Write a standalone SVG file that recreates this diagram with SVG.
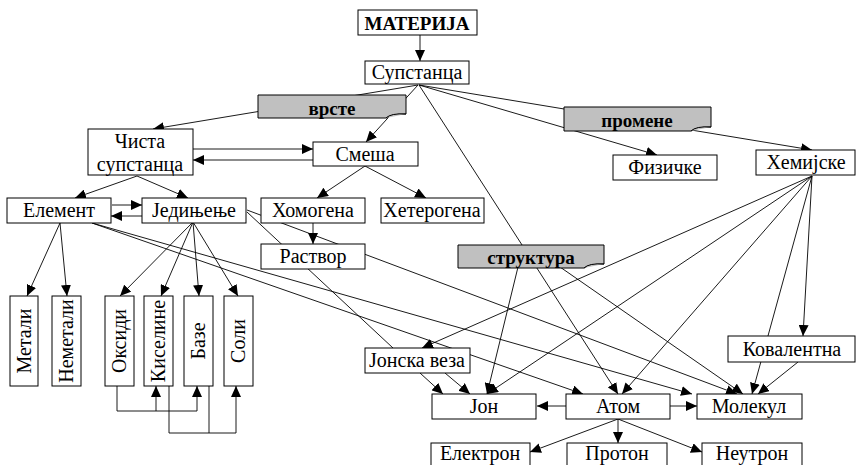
<svg xmlns="http://www.w3.org/2000/svg" width="857" height="465" viewBox="0 0 857 465">
<defs>
<marker id="ah" markerUnits="userSpaceOnUse" markerWidth="12" markerHeight="10" refX="11" refY="5" orient="auto">
<path d="M0,0 L11,5 L0,10 Z" fill="#000"/>
</marker>
<style>
.c line, .c path{stroke:#000;stroke-width:0.9;fill:none}
.a{marker-end:url(#ah)}
.n rect{fill:#fff;stroke:#000;stroke-width:1}
.g path{fill:#c0c0c0;stroke:#000;stroke-width:1}
text{font-family:"Liberation Serif","Times New Roman",serif;font-size:20px;fill:#000;text-anchor:middle}
.b{font-weight:bold;font-size:19px}
</style>
</defs>
<rect width="857" height="465" fill="#fff"/>
<g id="connectors" class="c">
<line class="a" x1="420" y1="35" x2="420" y2="61"/>
<line class="a" x1="418" y1="85" x2="153" y2="129"/>
<line class="a" x1="418" y1="85" x2="366" y2="142"/>
<line class="a" x1="419" y1="85" x2="657" y2="155"/>
<line class="a" x1="419" y1="85" x2="812" y2="150"/>
<line class="a" x1="419" y1="85" x2="618" y2="394"/>
<line class="a" x1="193" y1="149" x2="313" y2="149"/>
<line class="a" x1="313" y1="160" x2="193" y2="160"/>
<line class="a" x1="137" y1="176" x2="75" y2="198"/>
<line class="a" x1="137" y1="176" x2="188" y2="198"/>
<line class="a" x1="112" y1="205" x2="142" y2="205"/>
<line class="a" x1="142" y1="216" x2="111" y2="216"/>
<line class="a" x1="365" y1="166" x2="317" y2="198"/>
<line class="a" x1="365" y1="166" x2="426" y2="198"/>
<line class="a" x1="313" y1="223" x2="313" y2="244"/>
<line class="a" x1="60" y1="223" x2="27" y2="296"/>
<line class="a" x1="60" y1="223" x2="67" y2="296"/>
<line class="a" x1="193" y1="222" x2="120" y2="296"/>
<line class="a" x1="193" y1="222" x2="161" y2="296"/>
<line class="a" x1="193" y1="222" x2="199" y2="296"/>
<line class="a" x1="193" y1="222" x2="238" y2="296"/>
<line x1="247" y1="212" x2="393" y2="348"/>
<line class="a" x1="247" y1="210" x2="737" y2="394"/>
<line class="a" x1="92" y1="223" x2="583" y2="394"/>
<line class="a" x1="92" y1="223" x2="692" y2="394"/>
<line class="a" x1="518" y1="267" x2="487" y2="394"/>
<line class="a" x1="560" y1="267" x2="743" y2="394"/>
<line class="a" x1="812" y1="176" x2="422" y2="348"/>
<line class="a" x1="812" y1="176" x2="487" y2="394"/>
<line class="a" x1="812" y1="176" x2="622" y2="394"/>
<line class="a" x1="812" y1="176" x2="752" y2="394"/>
<line class="a" x1="812" y1="176" x2="803" y2="336"/>
<line class="a" x1="798" y1="362" x2="758" y2="394"/>
<line class="a" x1="420" y1="373" x2="443" y2="394"/>
<line class="a" x1="445" y1="373" x2="470" y2="394"/>
<line class="a" x1="566" y1="406" x2="537" y2="406"/>
<line class="a" x1="670" y1="406" x2="697" y2="406"/>
<line class="a" x1="618" y1="419" x2="530" y2="452"/>
<line class="a" x1="618" y1="419" x2="618" y2="443"/>
<line class="a" x1="618" y1="419" x2="702" y2="452"/>
<path d="M117,386 V411 H197"/>
<path class="a" d="M197,411 V386"/>
<path class="a" d="M156,411 V386"/>
<path d="M169,386 V433 H236"/>
<path class="a" d="M236,433 V386"/>
<path d="M209,386 V433"/>
</g>
<g id="materija" class="n"><rect x="358" y="10" width="119" height="25"/><text class="b" x="417" y="30">МАТЕРИЈА</text></g>
<g id="supstanca" class="n"><rect x="365" y="61" width="104" height="23"/><text x="417" y="79">Супстанца</text></g>
<g id="vrste" class="g"><path d="M258,95 H406 V114 Q398,114 393,115 Q389,116 386,118 H258 Z"/><path d="M386,118 Q391,113 406,114" fill="#888"/><text class="b" x="332" y="115">врсте</text></g>
<g id="promene" class="g"><path d="M564,107 H711 V127 Q703,127 698,128 Q694,129 691,131 H564 Z"/><path d="M691,131 Q696,126 711,127" fill="#888"/><text class="b" x="637" y="127">промене</text></g>
<g id="struktura" class="g"><path d="M458,245 H604 V264 Q596,264 591,265 Q587,266 584,268 H458 Z"/><path d="M584,268 Q589,263 604,264" fill="#888"/><text class="b" x="531" y="264">структура</text></g>
<g id="cista" class="n"><rect x="88" y="129" width="105" height="46"/><text x="140" y="148">Чиста</text><text x="140" y="171">супстанца</text></g>
<g id="smesa" class="n"><rect x="313" y="142" width="105" height="24"/><text x="365" y="161">Смеша</text></g>
<g id="fizicke" class="n"><rect x="613" y="155" width="104" height="25"/><text x="665" y="174">Физичке</text></g>
<g id="hemijske" class="n"><rect x="756" y="150" width="99" height="25"/><text x="806" y="169">Хемијске</text></g>
<g id="element" class="n"><rect x="7" y="198" width="104" height="25"/><text x="59" y="217">Елемент</text></g>
<g id="jedinjenje" class="n"><rect x="142" y="198" width="104" height="25"/><text x="194" y="217">Једињење</text></g>
<g id="homogena" class="n"><rect x="261" y="198" width="104" height="25"/><text x="313" y="217">Хомогена</text></g>
<g id="heterogena" class="n"><rect x="381" y="198" width="103" height="25"/><text x="432" y="217">Хетерогена</text></g>
<g id="rastvor" class="n"><rect x="261" y="244" width="104" height="25"/><text x="313" y="263">Раствор</text></g>
<g id="metali" class="n"><rect x="10" y="296" width="28" height="90"/><text transform="translate(30.5,341) rotate(-90)">Метали</text></g>
<g id="nemetali" class="n"><rect x="52" y="296" width="29" height="90"/><text transform="translate(73,341) rotate(-90)">Неметали</text></g>
<g id="oksidi" class="n"><rect x="105" y="296" width="29" height="90"/><text transform="translate(126,341) rotate(-90)">Оксиди</text></g>
<g id="kiseline" class="n"><rect x="144" y="296" width="29" height="90"/><text transform="translate(165,341) rotate(-90)">Киселине</text></g>
<g id="baze" class="n"><rect x="184" y="296" width="29" height="90"/><text transform="translate(205,341) rotate(-90)">Базе</text></g>
<g id="soli" class="n"><rect x="224" y="296" width="29" height="90"/><text transform="translate(245,341) rotate(-90)">Соли</text></g>
<g id="jonska-veza" class="n"><rect x="365" y="348" width="105" height="25"/><text x="417" y="367">Јонска веза</text></g>
<g id="kovalentna" class="n"><rect x="728" y="336" width="127" height="26"/><text x="792" y="356">Ковалентна</text></g>
<g id="jon" class="n"><rect x="432" y="394" width="104" height="25"/><text x="484" y="413">Јон</text></g>
<g id="atom" class="n"><rect x="566" y="394" width="104" height="25"/><text x="618" y="413">Атом</text></g>
<g id="molekul" class="n"><rect x="697" y="394" width="105" height="25"/><text x="749" y="413">Молекул</text></g>
<g id="elektron" class="n"><rect x="431" y="443" width="99" height="30"/><text x="480" y="460">Електрон</text></g>
<g id="proton" class="n"><rect x="567" y="443" width="100" height="30"/><text x="617" y="460">Протон</text></g>
<g id="neutron" class="n"><rect x="702" y="443" width="100" height="30"/><text x="752" y="460">Неутрон</text></g>
</svg>
